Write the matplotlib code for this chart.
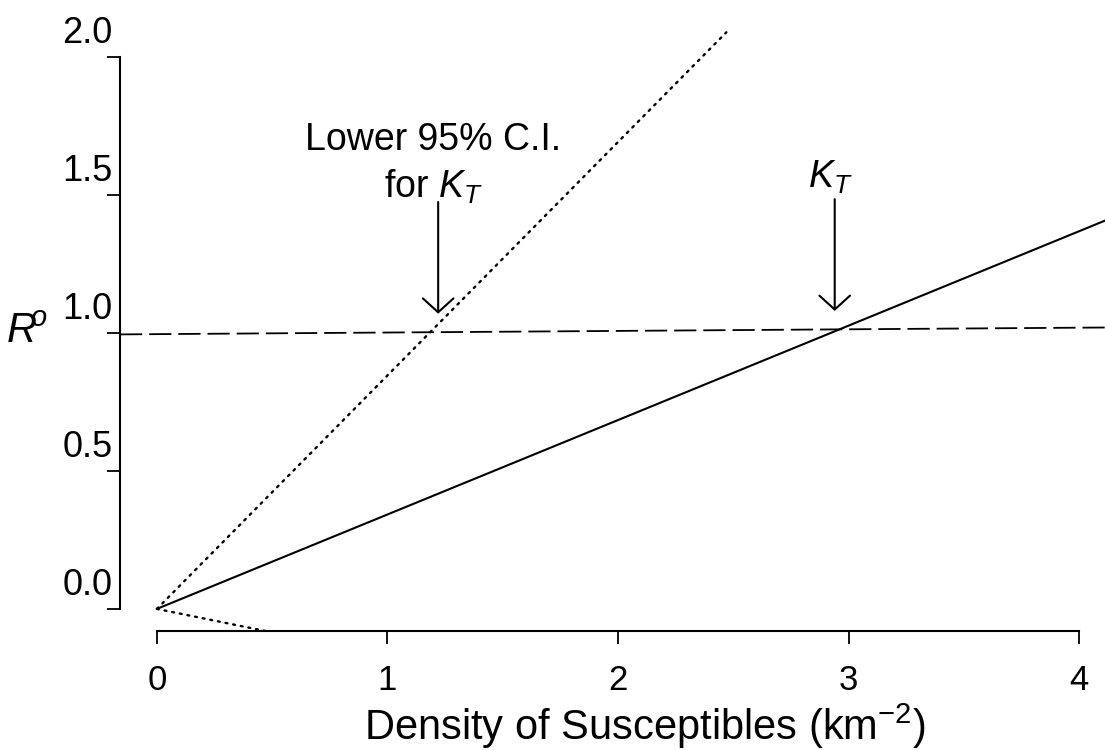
import matplotlib
matplotlib.use('Agg')
import matplotlib.pyplot as plt
import matplotlib.transforms as mtransforms

plt.rcParams['font.family'] = ['Liberation Sans', 'DejaVu Sans']
plt.rcParams['mathtext.fontset'] = 'custom'
plt.rcParams['mathtext.rm'] = 'Liberation Sans'
plt.rcParams['mathtext.it'] = 'Liberation Sans:italic'
plt.rcParams['lines.scale_dashes'] = False

# R0 against density of susceptibles
fit_x = [0.0, 4.12]          # best estimate of transmission
fit_y = [0.0, 1.41]
lower_ci_x = [0.0, 2.47]     # lower 95% C.I.
lower_ci_y = [0.0, 2.09]
lower_tail_x = [0.0, 0.47]   # short dotted tail below zero
lower_tail_y = [0.0, -0.08]
thresh_x = [-0.16, 4.12]     # R0 = 1 threshold
thresh_y = [0.995, 1.02]

k_t_lower = 1.22
k_t = 2.94

x_ticks = [0, 1, 2, 3, 4]
y_ticks = [0.0, 0.5, 1.0, 1.5, 2.0]
y_ticklabels = ['0.0', '0.5', '1.0', '1.5', '2.0']

fs = 26

fig = plt.figure(figsize=(11.05, 7.5), dpi=100)
ax = fig.add_axes([0.1086, 0.1587, 0.893, 0.8387])
ax.set_xlim(-0.16, 4.12)
ax.set_ylim(-0.08, 2.2)

ax.plot(fit_x, fit_y, color='black', lw=1.5, solid_capstyle='butt')
ax.plot(lower_ci_x, lower_ci_y, color='black', lw=1.7, dashes=(1.4, 4.2),
        dash_capstyle='round')
ax.plot(lower_tail_x, lower_tail_y, color='black', lw=1.7, dashes=(1.4, 4.2),
        dash_capstyle='round')
ax.plot(thresh_x, thresh_y, color='black', lw=1.3, dashes=(16, 5))

arrow = dict(arrowstyle='->,head_length=0.5,head_width=0.55', mutation_scale=20,
             lw=1.5, color='black', shrinkA=0, shrinkB=0)
ax.annotate('', xy=(k_t_lower, 1.07), xytext=(k_t_lower, 1.475), arrowprops=arrow)
ax.annotate('', xy=(k_t, 1.08), xytext=(k_t, 1.485), arrowprops=arrow)

ax.text(1.2, 1.70, 'Lower 95% C.I.', ha='center', va='center', fontsize=27)
ax.text(1.2, 1.53, 'for $K_T$', ha='center', va='center', fontsize=27)
ax.text(2.92, 1.565, '$K_T$', ha='center', va='center', fontsize=27)

for side in ['top', 'right']:
    ax.spines[side].set_visible(False)
ax.spines['left'].set_bounds(0, 2)
ax.spines['bottom'].set_bounds(0, 4)
ax.spines['left'].set_linewidth(1.5)
ax.spines['bottom'].set_linewidth(1.5)

ax.set_xticks(x_ticks)
ax.set_xticklabels([str(v) for v in x_ticks])
ax.set_yticks(y_ticks)
ax.set_yticklabels(y_ticklabels)
ax.tick_params(axis='both', direction='out', length=9.5, width=1.3, labelsize=fs)
ax.tick_params(axis='x', pad=14, labelsize=25)
ax.tick_params(axis='y', pad=-4)

# y labels sit above their ticks in the original
offset = mtransforms.ScaledTranslation(0, 0.06, fig.dpi_scale_trans)
for t in ax.yaxis.get_major_ticks():
    t.label1.set_verticalalignment('bottom')
    t.label1.set_transform(t.label1.get_transform() + offset)

ax.set_xlabel('Density of Susceptibles (km$^{-2}$)', fontsize=30)
ax.xaxis.set_label_coords(0.532, -0.1735)
ax.xaxis.label.set_verticalalignment('baseline')
fig.text(27 / 1105, 1 - 332 / 750, r'$R^{\!\!o}$', fontsize=30,
         ha='center', va='center')

fig.savefig('out.png', dpi=100)
